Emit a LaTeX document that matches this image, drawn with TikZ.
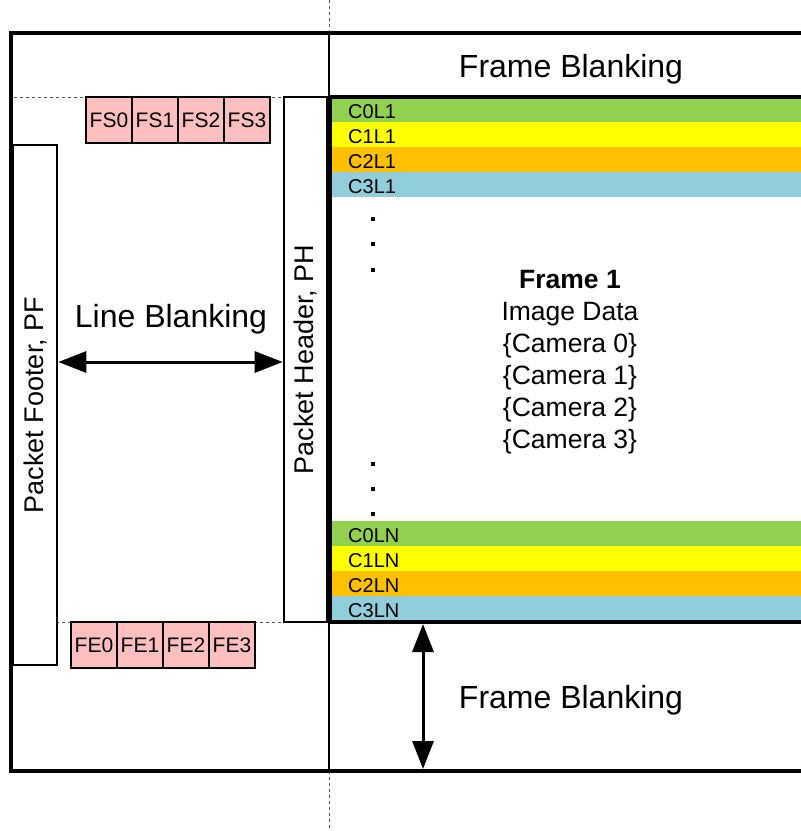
\documentclass[tikz,border=0pt]{standalone}
\usepackage{fontspec}
\setmainfont{Liberation Sans}
\usetikzlibrary{arrows.meta}
\definecolor{cgreen}{HTML}{92D050}
\definecolor{cyellow}{HTML}{FFFF00}
\definecolor{corange}{HTML}{FFC000}
\definecolor{cblue}{HTML}{92CDDC}
\definecolor{cpink}{HTML}{FFBFBF}
\begin{document}
\begin{tikzpicture}[x=1pt,y=-1pt,
  bar/.style={anchor=north west, minimum width=470pt, minimum height=25pt,
    text width=436pt, inner xsep=17pt, inner ysep=0pt, align=left,
    text height=18.5pt, text depth=0pt,
    font=\fontsize{20}{24}\selectfont},
  fbox/.style={draw, line width=2.5pt, fill=cpink, minimum width=46pt,
    minimum height=46pt, inner sep=0pt, font=\fontsize{21}{25}\selectfont},
  pbox/.style={draw, line width=2.6pt, fill=white, rotate=90, inner sep=0pt,
    font=\fontsize{27}{32}\selectfont},
  big/.style={font=\fontsize{32}{38}\selectfont, inner sep=0pt},
  heavy/.style={line width=4.5pt},
  guide/.style={gray!70!black, dashed, line width=1pt},
  arr/.style={line width=3pt, {Triangle[length=28pt,width=21pt]}-{Triangle[length=28pt,width=21pt]}},
  dotm/.style={fill=black, minimum size=3.5pt, inner sep=0pt}
]
\useasboundingbox (0,0) rectangle (801,831);

% guides
\draw[guide] (329,0) -- (329,33);
\draw[guide] (329,771) -- (329,831);
\draw[guide] (14,97) -- (284,97);
\draw[guide] (14,622) -- (284,622);

% outer frame
\draw[heavy] (803,33) -- (11,33) -- (11,771) -- (803,771);
\draw[line width=2.4pt] (329,33) -- (329,771);

% colour bars
\node[bar, fill=cgreen]  (c0l1) at (331,97)  {C0L1};
\node[bar, fill=cyellow] (c1l1) at (331,122) {C1L1};
\node[bar, fill=corange] (c2l1) at (331,147) {C2L1};
\node[bar, fill=cblue]   (c3l1) at (331,172) {C3L1};
\node[bar, fill=cgreen]  (c0ln) at (331,521) {C0LN};
\node[bar, fill=cyellow] (c1ln) at (331,546) {C1LN};
\node[bar, fill=corange] (c2ln) at (331,571) {C2LN};
\node[bar, fill=cblue]   (c3ln) at (331,596) {C3LN};

% data region border
\draw[heavy] (803,97) -- (330,97) -- (330,622) -- (803,622);

% dots
\node[dotm] (d1) at (373,219) {};
\node[dotm] (d2) at (373,244) {};
\node[dotm] (d3) at (373,270) {};
\node[dotm] (d4) at (373,464) {};
\node[dotm] (d5) at (373,489) {};
\node[dotm] (d6) at (373,514) {};

% frame text
\node[align=center, inner sep=0pt, font=\fontsize{26.5}{32}\selectfont] (f1) at (570,362)
  {\textbf{Frame 1}\\Image Data\\\{Camera 0\}\\\{Camera 1\}\\\{Camera 2\}\\\{Camera 3\}};

\node[big] (fbt) at (571,69) {Frame Blanking};
\node[big] (fbb) at (571,700) {Frame Blanking};
\node[big] (lb) at (171,319) {Line Blanking};

% packet boxes
\node[pbox, minimum width=525pt, minimum height=43pt] (ph) at (305.5,359.5) {Packet Header, PH};
\node[pbox, minimum width=520pt, minimum height=44pt] (pf) at (35,405) {Packet Footer, PF};

% FS / FE boxes
\node[fbox] (fs0) at (109,120) {FS0};
\node[fbox] (fs1) at (155,120) {FS1};
\node[fbox] (fs2) at (201,120) {FS2};
\node[fbox] (fs3) at (247,120) {FS3};
\node[fbox] (fe0) at (94,645) {FE0};
\node[fbox] (fe1) at (140,645) {FE1};
\node[fbox] (fe2) at (186,645) {FE2};
\node[fbox] (fe3) at (232,645) {FE3};

% arrows
\coordinate (lby) at (0,362);
\draw[arr] (pf.south |- lby) -- (ph.north |- lby);
\coordinate (fbtop) at (423,624);
\coordinate (fbbot) at (423,769);
\draw[arr] (fbtop) -- (fbbot);
\end{tikzpicture}
\end{document}
